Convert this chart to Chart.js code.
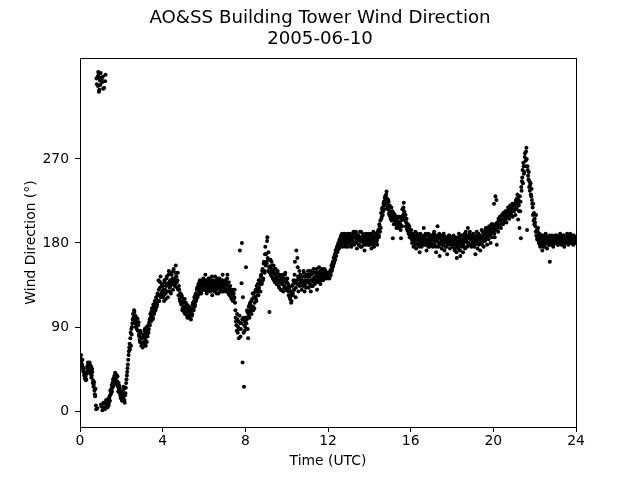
<!DOCTYPE html>
<html>
<head>
<meta charset="utf-8">
<script src="https://cdn.jsdelivr.net/npm/chart.js@4"></script>
<style>
  html, body { margin: 0; padding: 0; background: #fff; }
  #chart { display: block; }
</style>
</head>
<body>
<canvas id="chart" width="640" height="480"></canvas>
<script>
// wind direction (deg), 1-minute samples, one list per UTC hour
const dir00 = [58,54,56,60,53,49,50,55,47,44,42,46,38,41,35,39,37,33,34,42,40,48,45,52,50,46,47,43,52,49,44,40,48,36,38,45,42,30,33,26,28,31,22,18,16,24,6,2,356,350,3,358,348,363,361,342,344,357,354,349];
const dir01 = [362,7,5,355,352,1,358,345,9,4,346,8,2,353,360,10,12,5,7,11,4,8,13,6,9,14,16,11,22,18,19,24,28,21,25,31,34,27,30,36,38,33,41,35,36,29,39,31,32,37,26,21,30,23,20,27,24,17,14,20];
const dir02 = [18,13,11,20,21,16,15,26,24,12,9,17,19,25,30,34,38,42,46,50,55,60,64,68,72,66,78,84,70,88,82,90,94,98,104,100,99,108,106,94,96,102,90,97,100,88,93,99,86,92,95,82,80,76,74,86,84,78,70,73];
const dir03 = [78,72,68,80,82,74,72,86,88,79,76,70,84,90,74,82,80,86,92,84,88,95,98,92,104,100,96,106,102,110,108,98,100,114,112,104,106,118,116,108,110,122,120,112,114,126,124,118,140,130,118,124,132,138,144,122,126,134,136,128];
const dir04 = [122,134,130,124,118,140,138,130,126,120,134,142,144,136,128,122,136,146,150,138,132,128,140,134,126,148,146,136,138,142,130,150,152,140,142,134,136,148,156,144,144,138,132,140,148,130,124,134,130,120,118,126,126,116,114,124,122,108,110,118];
const dir05 = [116,110,106,112,120,104,110,116,104,108,114,102,100,106,108,112,112,100,102,110,106,104,98,108,110,102,104,114,116,110,108,118,122,112,114,124,126,118,120,130,132,122,124,134,136,130,128,138,140,126,132,136,126,134,138,130,130,140,142,134];
const dir06 = [138,134,130,140,146,136,134,128,126,138,140,132,136,142,130,136,142,134,128,140,138,130,132,144,124,136,140,130,134,138,128,134,144,132,136,140,130,126,138,134,142,136,126,132,134,142,140,128,130,138,136,132,128,140,146,134,132,128,138,136];
const dir07 = [132,136,140,130,128,138,136,142,146,134,130,126,138,132,124,130,134,126,128,122,120,128,130,124,118,126,126,120,122,130,116,108,100,96,92,86,104,98,84,90,96,78,88,102,172,94,80,88,94,137,180,98,52,122,100,84,26,92,86,96];
const dir08 = [90,100,154,94,98,108,106,88,78,102,112,106,100,114,116,110,108,118,104,112,120,126,112,108,126,122,110,116,122,128,130,120,118,134,128,124,136,130,124,140,132,128,140,136,128,144,146,138,136,150,152,140,142,158,160,150,148,168,176,156];
const dir09 = [168,160,158,182,186,164,150,170,162,154,106,148,155,162,146,152,160,144,150,156,142,148,156,140,148,152,138,146,152,142,144,136,136,148,150,140,140,134,132,144,146,138,138,130,130,142,144,136,136,146,128,140,142,132,134,146,148,140,138,130];
const dir10 = [130,138,142,132,136,128,124,134,132,122,120,128,128,116,118,126,134,124,126,136,140,130,130,146,160,138,122,132,172,140,136,164,154,144,128,136,142,150,134,140,146,136,138,144,130,140,144,134,136,150,148,138,128,144,140,134,132,146,144,138];
const dir11 = [138,144,150,140,132,146,144,136,136,150,128,140,146,134,140,148,134,142,152,138,142,148,136,144,148,138,140,152,130,144,146,140,138,148,154,142,144,150,136,146,148,140,142,152,150,144,140,148,146,142,152,146,144,150,148,144,142,148,146,144];
const dir12 = [144,146,148,143,142,147,150,145,146,152,156,150,152,158,160,155,164,158,160,166,168,162,172,170,166,174,176,170,172,178,180,176,174,182,184,178,178,186,188,182,182,190,176,184,186,180,180,188,190,182,184,176,178,186,188,180,182,190,176,184];
const dir13 = [186,182,180,188,190,184,184,178,176,186,188,182,182,190,192,180,178,186,186,180,180,192,190,184,174,182,184,188,188,178,178,184,186,192,182,176,192,186,176,182,184,190,180,186,188,178,172,184,182,188,190,180,178,186,186,182,180,190,184,178];
const dir14 = [178,184,188,180,182,190,174,184,186,178,180,188,192,182,176,186,184,180,180,190,190,184,182,178,186,192,194,186,188,200,198,192,204,196,212,206,208,216,218,210,214,222,224,216,220,228,230,222,226,232,235,228,222,218,216,226,224,212,210,220];
const dir15 = [214,208,206,212,218,204,208,214,185,206,212,200,204,210,210,202,200,206,208,196,198,204,206,200,202,208,196,202,208,198,200,194,185,204,206,198,216,208,210,218,223,214,212,206,204,210,198,202,206,196,194,200,200,192,190,196,198,186,188,194];
const dir16 = [186,190,194,184,180,188,190,182,176,186,186,180,182,188,192,178,174,184,184,190,188,180,178,186,184,176,170,182,190,186,182,178,176,188,186,180,180,184,196,186,184,178,178,190,188,182,172,180,184,188,180,176,190,184,176,182,186,178,182,188];
const dir17 = [180,186,188,178,176,184,184,190,192,182,178,188,186,176,170,182,182,188,198,184,176,180,186,190,166,178,180,186,188,182,174,184,184,178,178,188,190,180,172,186,182,176,186,184,176,180,168,186,184,178,180,188,188,182,174,180,182,186,178,184];
const dir18 = [184,178,176,186,188,182,180,174,172,184,186,178,178,170,164,180,182,176,174,186,190,182,180,172,166,178,184,188,176,182,188,178,170,184,180,176,186,190,174,182,192,184,182,188,176,180,196,186,186,180,178,190,192,184,184,178,176,186,188,182];
const dir19 = [182,186,190,180,176,184,186,178,168,182,180,188,192,184,174,180,184,190,178,186,188,180,172,184,182,188,194,186,178,192,186,182,176,188,190,184,182,194,196,188,186,192,178,186,192,196,184,190,198,192,188,196,180,190,194,200,186,194,200,196];
const dir20 = [192,198,222,190,186,200,230,194,196,226,178,202,200,196,192,206,204,198,198,208,206,200,196,204,202,210,210,204,200,212,206,202,212,208,204,214,210,206,202,212,214,208,208,218,216,210,206,214,212,220,218,212,210,216,216,222,208,214,220,216];
const dir21 = [214,220,222,216,210,224,226,218,216,228,232,222,205,226,220,214,196,230,214,224,185,240,236,246,250,258,244,266,262,254,256,272,276,262,268,278,282,270,194,262,258,252,248,256,240,246,236,242,244,232,230,238,226,222,218,210,222,204,212,200];
const dir22 = [206,202,198,192,210,188,194,184,186,192,196,182,180,188,190,178,176,184,186,180,182,188,172,182,188,176,178,186,184,180,176,188,190,182,180,186,174,180,186,184,182,178,178,188,160,182,186,178,180,186,188,182,182,178,176,186,186,182,180,188];
const dir23 = [186,182,180,188,188,184,182,178,178,186,186,180,180,184,190,182,184,188,178,184,186,180,182,188,188,182,176,184,184,180,180,186,186,182,190,184,182,188,178,182,186,180,184,190,188,182,180,186,186,180,182,188,178,184,188,182,184,180,186,184];

const hours = [dir00, dir01, dir02, dir03, dir04, dir05, dir06, dir07, dir08, dir09, dir10, dir11,
               dir12, dir13, dir14, dir15, dir16, dir17, dir18, dir19, dir20, dir21, dir22, dir23];
const xTicks = [0, 4, 8, 12, 16, 20, 24];
const yTicks = [0, 90, 180, 270];
const titleLines = ['AO&SS Building Tower Wind Direction', '2005-06-10'];

// time in hours UTC for each sample
const points = [];
hours.forEach((vals, h) => {
    vals.forEach((v, i) => points.push({ x: h + i / vals.length, y: v }));
});

const family = 'DejaVu Sans';
const tickFont = { family: family, size: 13.9 };

// box around the plot like matplotlib spines, plus the figure title centred on the canvas
const frame = {
    id: 'frame',
    afterDraw(chart) {
        const { ctx, chartArea: a } = chart;
        ctx.save();
        ctx.strokeStyle = '#000';
        ctx.lineWidth = 1;
        ctx.strokeRect(Math.round(a.left) + 0.5, Math.round(a.top) + 0.5,
                       Math.round(a.right - a.left), Math.round(a.bottom - a.top));
        ctx.fillStyle = '#000';
        ctx.font = '18.2px "' + family + '"';
        ctx.textAlign = 'center';
        ctx.textBaseline = 'middle';
        titleLines.forEach((t, i) => ctx.fillText(t, chart.width / 2, 18.5 + i * 21));
        ctx.restore();
    }
};

const ctx = document.getElementById('chart');
new Chart(ctx, {
    type: 'scatter',
    data: {
        datasets: [{
            data: points,
            pointRadius: 2,
            pointBackgroundColor: '#000',
            pointBorderWidth: 0,
            showLine: false
        }]
    },
    options: {
        responsive: false,
        animation: false,
        devicePixelRatio: 1,
        layout: { padding: { left: 0, right: 64, top: 58, bottom: 0 } },
        plugins: {
            legend: { display: false },
            tooltip: { enabled: false },
            title: { display: false }
        },
        scales: {
            x: {
                type: 'linear',
                min: 0,
                max: 24,
                afterBuildTicks: s => { s.ticks = xTicks.map(v => ({ value: v })); },
                afterFit: s => { s.height = 53; },
                ticks: { color: '#000', font: tickFont, padding: 1, maxRotation: 0 },
                grid: { drawOnChartArea: false, drawTicks: true, tickLength: 5, tickColor: '#000', color: '#000' },
                border: { display: false },
                title: {
                    display: true, text: 'Time (UTC)', color: '#000',
                    font: { family: family, size: 13.9, lineHeight: 1.2 },
                    padding: { top: 0, bottom: 10.7 }
                }
            },
            y: {
                type: 'linear',
                min: -17,
                max: 378,
                afterBuildTicks: s => { s.ticks = yTicks.map(v => ({ value: v })); },
                afterFit: s => { s.width = 80; },
                ticks: { color: '#000', font: tickFont, padding: 6 },
                grid: { drawOnChartArea: false, drawTicks: true, tickLength: 5, tickColor: '#000', color: '#000' },
                border: { display: false },
                title: {
                    display: true, text: 'Wind Direction (°)', color: '#000',
                    font: { family: family, size: 13.9, lineHeight: 1.2 },
                    padding: { top: 22.6, bottom: 0 }
                }
            }
        }
    },
    plugins: [frame]
});
</script>
</body>
</html>
